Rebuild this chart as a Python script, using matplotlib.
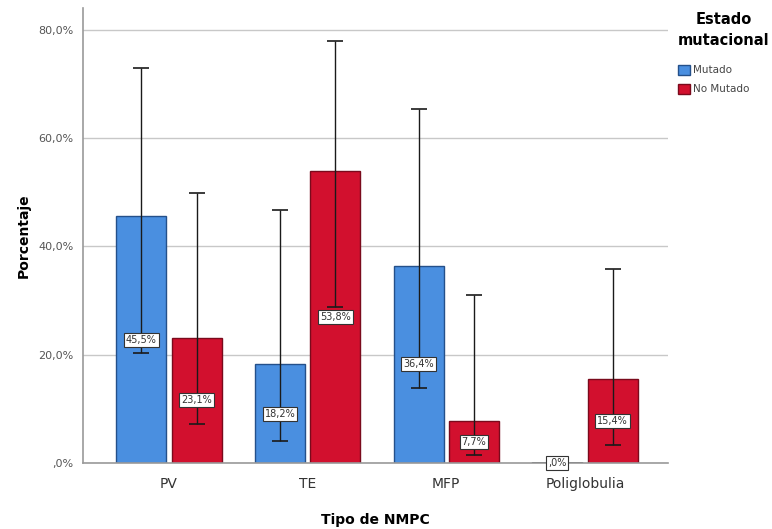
import matplotlib
matplotlib.use("Agg")
import matplotlib.pyplot as plt
import numpy as np

categories = ["PV", "TE", "MFP", "Poliglobulia"]
series_names = ["Mutado", "No Mutado"]
mutado = [45.5, 18.2, 36.4, 0.0]
no_mutado = [23.1, 53.8, 7.7, 15.4]
# 95% confidence limits (lower, upper)
mutado_ci_low = [20.2, 4.1, 13.8, 0.0]
mutado_ci_high = [73.0, 46.7, 65.3, 0.0]
no_mutado_ci_low = [7.1, 28.7, 1.4, 3.3]
no_mutado_ci_high = [49.9, 77.9, 31.0, 35.8]
yticks = [0, 20, 40, 60, 80]
ytick_labels = [",0%", "20,0%", "40,0%", "60,0%", "80,0%"]

colors = ["#4A8FE0", "#D2102E"]
edges = ["#24508A", "#7A0A1C"]

fig = plt.figure(figsize=(7.72, 5.29), dpi=100)
ax = fig.add_axes([0.1075, 0.125, 0.758, 0.86])

x = np.arange(len(categories))
w = 0.36
gap = 0.02
offsets = [-(w / 2 + gap), (w / 2 + gap)]
values = [mutado, no_mutado]
lows = [mutado_ci_low, no_mutado_ci_low]
highs = [mutado_ci_high, no_mutado_ci_high]

for i in range(2):
    xs = x + offsets[i]
    vals = np.array(values[i])
    ax.bar(xs, vals, width=w, color=colors[i], edgecolor=edges[i],
           linewidth=1.0, label=series_names[i], zorder=2)
    lo = np.array(lows[i])
    hi = np.array(highs[i])
    has_ci = hi > 0
    ax.errorbar(xs[has_ci], vals[has_ci],
                yerr=[vals[has_ci] - lo[has_ci], hi[has_ci] - vals[has_ci]],
                fmt="none", ecolor="#1a1a1a", elinewidth=1.0, capsize=6,
                capthick=1.2, zorder=3)
    for xi, v in zip(xs, vals):
        if v == 0:
            ax.plot([xi - w / 2, xi + w / 2], [0, 0], color="#333333",
                    lw=1.0, zorder=3)
        label = f"{v:.1f}%".replace(".", ",")
        if label.startswith("0,"):
            label = label[1:]
        ax.text(xi, v / 2, label, ha="center", va="center", fontsize=7,
                color="#333333", zorder=4,
                bbox=dict(boxstyle="square,pad=0.2", fc="white",
                          ec="#333333", lw=0.8))

ax.set_xlim(-0.62, 3.6)
ax.set_ylim(0, 84)
ax.set_yticks(yticks)
ax.set_yticklabels(ytick_labels, fontsize=8, color="#555555")
ax.set_xticks(x)
ax.set_xticklabels(categories, fontsize=10, color="#333333")
ax.tick_params(axis="y", length=0, pad=7)
ax.tick_params(axis="x", length=0, pad=10)
ax.yaxis.grid(True, color="#C8C8C8", linewidth=1.0, zorder=0)
ax.set_axisbelow(True)
for s in ["top", "right"]:
    ax.spines[s].set_visible(False)
for s in ["left", "bottom"]:
    ax.spines[s].set_color("#9A9A9A")
    ax.spines[s].set_linewidth(1.2)

ax.set_xlabel("Tipo de NMPC", fontsize=10, fontweight="bold", labelpad=16)
ax.set_ylabel("Porcentaje", fontsize=10, fontweight="bold", labelpad=5)

leg = ax.legend(loc="upper left", bbox_to_anchor=(1.01, 1.0),
                frameon=False, fontsize=7.5, title="Estado\nmutacional",
                handlelength=1.1, handleheight=1.1, handletextpad=0.3,
                labelspacing=0.8, borderaxespad=0.0)
leg.get_title().set_fontweight("bold")
leg.get_title().set_fontsize(10.5)
leg.get_title().set_linespacing(1.5)
leg.get_title().set_horizontalalignment("center")
leg._legend_box.align = "left"
leg._legend_box.sep = 12
for t in leg.get_texts():
    t.set_color("#444444")

fig.savefig("out.png", dpi=100)
